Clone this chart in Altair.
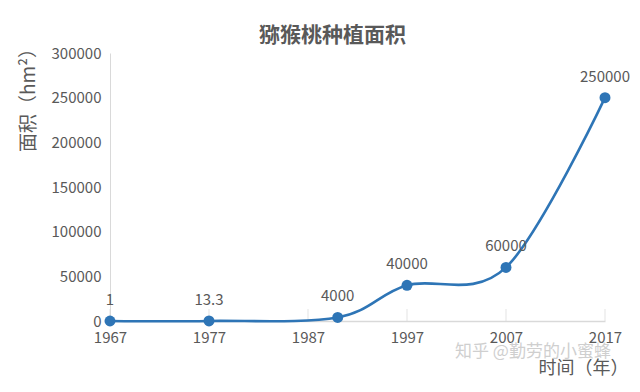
import altair as alt
import pandas as pd

# ---- data ----
years = [1967, 1977, 1990, 1997, 2007, 2017]
areas = [1, 13.3, 4000, 40000, 60000, 250000]
point_labels = ["1", "13.3", "4000", "40000", "60000", "250000"]
x_ticks = [1967, 1977, 1987, 1997, 2007, 2017]
y_ticks = [0, 50000, 100000, 150000, 200000, 250000, 300000]
chart_title = "猕猴桃种植面积"
x_title = "时间（年）"
y_title = "面积（hm²）"
watermark = "知乎 @勤劳的小蜜蜂"

df = pd.DataFrame({"year": years, "area": areas, "label": point_labels})
ticks_df = pd.DataFrame({"year": x_ticks, "area": [0] * len(x_ticks)})
wm_df = pd.DataFrame({"t": [watermark]})

FONT = "Noto Sans CJK SC"
GRAY = "#595959"
AXIS_GRAY = "#d9d9d9"
BLUE = "#2E75B6"

x_enc = alt.X(
    "year:Q",
    scale=alt.Scale(domain=[1967, 2017], nice=False, zero=False),
    axis=alt.Axis(
        values=x_ticks, format="d", title=x_title, grid=False, ticks=False,
        labelFlush=False, labelOverlap=False,
        domainColor=AXIS_GRAY, domainWidth=1.5,
        labelColor=GRAY, labelFontSize=15, labelFont=FONT, labelPadding=9,
        titleColor=GRAY, titleFontSize=18, titleFont=FONT, titleFontWeight="normal",
        titleX=518, titleY=47, titleAlign="right", titleBaseline="middle",
    ),
)
y_enc = alt.Y(
    "area:Q",
    scale=alt.Scale(domain=[0, 300000], nice=False),
    axis=alt.Axis(
        values=y_ticks, format="d", title=y_title, grid=False, ticks=False,
        labelFlush=False, labelOverlap=False,
        domainColor=AXIS_GRAY, domainWidth=1,
        labelColor=GRAY, labelFontSize=15, labelFont=FONT, labelPadding=9,
        titleColor=GRAY, titleFontSize=19, titleFont=FONT, titleFontWeight="normal",
        titleX=-82, titleY=42, titleAlign="center", titleBaseline="middle", titleAngle=-90,
    ),
)

base = alt.Chart(df).encode(x=x_enc, y=y_enc)

tick_marks = alt.Chart(ticks_df).mark_tick(
    color=AXIS_GRAY, size=12, thickness=1, yOffset=-6
).encode(x="year:Q", y="area:Q")

line = base.mark_line(color=BLUE, strokeWidth=2.6, interpolate="cardinal")
points = base.mark_circle(color=BLUE, size=120, opacity=1)
texts = base.mark_text(
    dy=-21, fontSize=15, color=GRAY, font=FONT, baseline="middle"
).encode(text="label:N")

wm = alt.Chart(wm_df).mark_text(
    align="left", baseline="middle", fontSize=17, color="#cfcfcf", font=FONT
).encode(x=alt.value(345), y=alt.value(299), text="t:N")

chart = alt.layer(tick_marks, line, points, texts, wm).properties(
    width=495,
    height=268,
    autosize="none",
    padding={"left": 110, "top": 53, "right": 35, "bottom": 71},
    background="white",
    title=alt.TitleParams(
        chart_title, fontSize=21, fontWeight="bold", color=GRAY, font=FONT,
        anchor="middle", frame="group", dx=-25, offset=-7,
    ),
).configure_view(stroke=None)

chart.save("out.html", embed_options={"renderer": "svg", "actions": False})
